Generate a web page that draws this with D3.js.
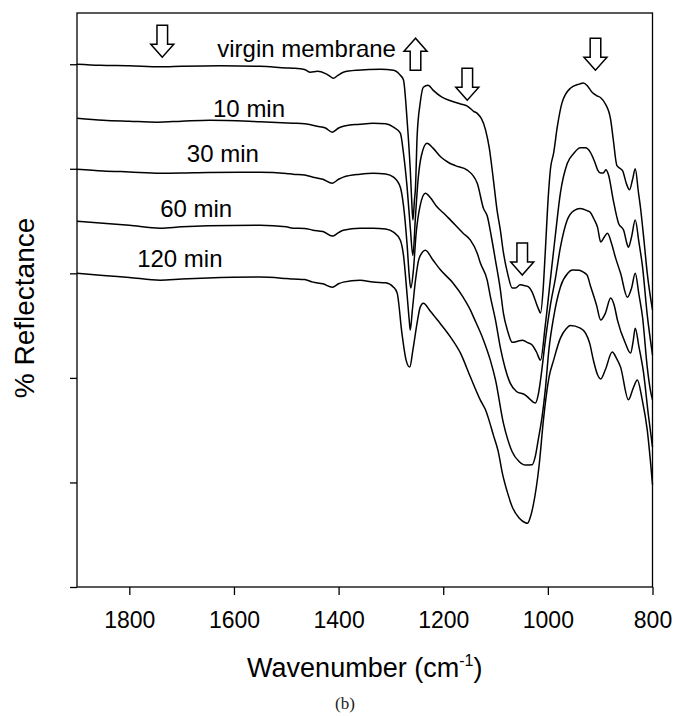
<!DOCTYPE html>
<html>
<head>
<meta charset="utf-8">
<script src="https://cdn.jsdelivr.net/npm/d3@7"></script>
<style>
    body { margin: 0; background: #fff; }
    svg text { font-family: "Liberation Sans", Arial, sans-serif; fill: #000; }
</style>
</head>
<body>
<div id="chart"></div>
<script>

// spectra: [wavenumber, reflectance (offset units)]
const virgin = [
    [1900,5.00],[1856,4.99],[1800,4.985],[1741,4.975],[1700,4.98],[1626,4.985],[1550,4.98],[1500,4.965],[1487,4.962],
    [1465,4.95],[1454,4.924],[1440,4.933],[1425,4.91],[1418,4.89],[1410,4.866],[1402,4.89],[1391,4.924],[1364,4.943],
    [1320,4.952],[1295,4.943],[1282,4.895],[1276,4.85],[1269,4.46],[1263,3.99],[1260,3.67],[1258,3.51],[1255,3.70],
    [1253,3.82],[1250,4.30],[1244,4.63],[1238,4.78],[1229,4.80],[1219,4.75],[1204,4.69],[1186,4.65],[1167,4.62],
    [1154,4.60],[1142,4.55],[1135,4.53],[1119,4.37],[1112,4.20],[1104,3.89],[1097,3.60],[1091,3.42],[1085,3.20],
    [1077,3.00],[1068,2.86],[1062,2.86],[1053,2.89],[1043,2.88],[1037,2.87],[1030,2.82],[1024,2.74],[1018,2.66],
    [1014,2.62],[1009,2.85],[1005,3.20],[999,3.75],[995,4.00],[989,4.15],[982,4.40],[973,4.63],[957,4.77],[940,4.81],
    [932,4.82],[924,4.79],[915,4.73],[907,4.70],[899,4.68],[890,4.62],[880,4.47],[875,4.28],[868,4.03],[861,4.00],
    [857,3.98],[850,3.86],[844,3.80],[838,3.90],[833,4.00],[827,3.78],[823,3.63],[816,3.30],[810,3.00],[800,2.65]
];

const min10 = [
    [1900,4.484],[1850,4.465],[1800,4.455],[1747,4.446],[1700,4.455],[1646,4.465],[1550,4.45],[1487,4.436],[1465,4.43],
    [1441,4.407],[1425,4.39],[1412,4.35],[1400,4.39],[1391,4.407],[1359,4.426],[1334,4.436],[1310,4.43],[1295,4.398],
    [1282,4.34],[1276,4.15],[1269,3.82],[1263,3.44],[1258,3.17],[1253,3.55],[1248,3.90],[1242,4.12],[1231,4.245],
    [1220,4.20],[1204,4.11],[1190,4.06],[1177,4.03],[1154,3.987],[1135,3.862],[1123,3.62],[1116,3.55],[1108,3.35],
    [1100,3.12],[1091,2.85],[1085,2.62],[1077,2.45],[1068,2.34],[1058,2.35],[1049,2.361],[1040,2.34],[1030,2.314],
    [1022,2.25],[1014,2.17],[1005,2.50],[995,2.95],[986,3.35],[976,3.77],[963,4.05],[950,4.15],[938,4.20],[928,4.20],
    [919,4.16],[910,4.06],[905,3.99],[899,3.96],[894,3.96],[889,3.99],[884,3.94],[875,3.70],[865,3.48],[855,3.41],
    [848,3.27],[846,3.25],[840,3.35],[833,3.51],[826,3.30],[819,3.06],[810,2.60],[800,2.22]
];

const min30 = [
    [1900,3.996],[1850,3.98],[1800,3.97],[1741,3.958],[1700,3.96],[1650,3.965],[1550,3.967],[1500,3.955],[1487,3.948],
    [1465,3.94],[1449,3.92],[1430,3.90],[1412,3.862],[1400,3.90],[1391,3.92],[1359,3.948],[1334,3.958],[1310,3.95],
    [1295,3.92],[1282,3.824],[1276,3.65],[1269,3.27],[1265,2.98],[1262,2.859],[1257,3.03],[1252,3.37],[1244,3.65],
    [1234,3.767],[1224,3.72],[1212,3.636],[1198,3.57],[1186,3.509],[1162,3.384],[1148,3.317],[1135,3.193],[1129,3.098],
    [1116,2.935],[1110,2.78],[1100,2.55],[1091,2.294],[1082,2.10],[1072,1.95],[1060,1.87],[1043,1.836],[1035,1.80],
    [1024,1.759],[1018,1.85],[1014,1.98],[1005,2.35],[995,2.70],[986,2.94],[976,3.25],[963,3.51],[950,3.60],[938,3.62],
    [925,3.60],[919,3.585],[912,3.52],[905,3.44],[899,3.30],[893,3.34],[886,3.384],[878,3.28],[871,3.155],[861,3.00],
    [848,2.772],[840,2.86],[833,3.00],[826,2.80],[819,2.58],[810,2.10],[804,1.88],[800,1.79]
];

const min60 = [
    [1900,3.499],[1850,3.48],[1800,3.46],[1741,3.432],[1700,3.445],[1650,3.455],[1550,3.461],[1500,3.445],[1487,3.432],
    [1465,3.43],[1449,3.413],[1430,3.40],[1412,3.356],[1400,3.39],[1391,3.413],[1359,3.432],[1334,3.432],[1310,3.425],
    [1295,3.394],[1282,3.317],[1276,3.174],[1269,2.79],[1265,2.553],[1263,2.457],[1259,2.648],[1253,2.935],[1246,3.145],
    [1234,3.222],[1220,3.13],[1205,3.031],[1181,2.906],[1162,2.772],[1148,2.648],[1142,2.581],[1123,2.361],[1110,2.17],
    [1100,1.979],[1085,1.568],[1076,1.40],[1068,1.291],[1055,1.20],[1043,1.166],[1030,1.17],[1024,1.25],[1018,1.42],
    [1011,1.63],[1005,1.88],[998,2.27],[989,2.58],[976,2.87],[962,3.00],[953,3.031],[940,3.03],[932,3.011],[925,2.983],
    [919,2.887],[907,2.696],[899,2.553],[890,2.62],[880,2.763],[873,2.69],[867,2.553],[852,2.333],[842,2.237],[837,2.35],
    [833,2.476],[826,2.30],[817,2.046],[808,1.65],[800,1.338]
];

const min120 = [
    [1900,3.002],[1850,2.98],[1800,2.96],[1741,2.935],[1700,2.945],[1650,2.955],[1550,2.964],[1500,2.95],[1487,2.945],
    [1465,2.94],[1449,2.916],[1430,2.90],[1412,2.868],[1400,2.90],[1391,2.916],[1359,2.935],[1334,2.916],[1310,2.91],
    [1295,2.868],[1288,2.811],[1279,2.428],[1271,2.17],[1264,2.103],[1258,2.266],[1250,2.524],[1244,2.677],[1238,2.715],
    [1225,2.64],[1211,2.553],[1186,2.39],[1167,2.237],[1148,2.008],[1129,1.788],[1119,1.692],[1114,1.62],[1104,1.45],
    [1095,1.30],[1087,1.09],[1077,0.90],[1068,0.765],[1055,0.66],[1043,0.615],[1039,0.61],[1034,0.66],[1028,0.78],
    [1017,1.15],[1008,1.62],[998,2.00],[989,2.17],[976,2.38],[965,2.47],[957,2.50],[938,2.476],[928,2.428],[920,2.33],
    [913,2.17],[905,2.03],[899,1.99],[890,2.08],[877,2.247],[869,2.19],[861,2.103],[846,1.79],[837,1.90],[829,1.979],
    [820,1.80],[810,1.50],[800,0.98]
];

const spectra = [virgin, min10, min30, min60, min120];

// curve labels
const labelText = ["virgin membrane", "10 min", "30 min", "60 min", "120 min"];
const labelWn = [1632, 1640, 1690, 1741, 1785];
const labelVal = [5.067, 4.493, 4.063, 3.537, 3.059];

// hollow arrows: centre wavenumber, tip value, direction
const arrowWn = [1737, 1253, 1154, 909, 1049];
const arrowTip = [5.067, 5.249, 4.656, 4.943, 2.983];
const arrowDir = ["down", "up", "down", "down", "down"];

// axis ticks
const xTicks = [1800, 1600, 1400, 1200, 1000, 800];
const yTicks = [0, 1, 2, 3, 4, 5];

// layout
const W = 676, H = 716;
const margin = {top: 13, right: 23.5, bottom: 129, left: 77};
const width = W - margin.left - margin.right;
const height = H - margin.top - margin.bottom;

const svg = d3.select("#chart").append("svg")
    .attr("width", W)
    .attr("height", H);

const g = svg.append("g")
    .attr("transform", `translate(${margin.left},${margin.top})`);

const x = d3.scaleLinear().domain([1900, 800]).range([0, width]);
const y = d3.scaleLinear().domain([0, 5.49]).range([height, 0]);

// axes
const xAxis = g.append("g")
    .attr("transform", `translate(0,${height})`)
    .call(d3.axisBottom(x).tickValues(xTicks).tickSize(8).tickPadding(17).tickFormat(d3.format("d")));
xAxis.select(".domain").remove();
xAxis.selectAll("line").attr("stroke", "#000").attr("stroke-width", 1.3);
xAxis.selectAll("text").attr("font-size", 23).attr("font-family", "Liberation Sans, Arial, sans-serif");

const yAxis = g.append("g")
    .call(d3.axisLeft(y).tickValues(yTicks).tickSize(7).tickFormat(""));
yAxis.select(".domain").remove();
yAxis.selectAll("line").attr("stroke", "#000").attr("stroke-width", 1.3);

// frame
g.append("rect")
    .attr("width", width)
    .attr("height", height)
    .attr("fill", "none")
    .attr("stroke", "#000")
    .attr("stroke-width", 1.3);

// spectra
const line = d3.line()
    .x(d => x(d[0]))
    .y(d => y(d[1]))
    .curve(d3.curveMonotoneX);

g.selectAll(".spectrum")
    .data(spectra)
    .enter().append("path")
    .attr("class", "spectrum")
    .attr("d", line)
    .attr("fill", "none")
    .attr("stroke", "#000")
    .attr("stroke-width", 1.5);

// labels
g.selectAll(".lbl")
    .data(labelText)
    .enter().append("text")
    .attr("class", "lbl")
    .attr("x", (d, i) => x(labelWn[i]))
    .attr("y", (d, i) => y(labelVal[i]))
    .attr("font-size", 24)
    .text(d => d);

// block arrows
function arrowPath(cx, tip, dir) {
    let len = 32, head = 13, sw = 5.3, hw = 11.5;
    let s = dir === "down" ? -1 : 1;   // tail sits above the tip for down arrows
    let base = tip + s * head;
    let tail = tip + s * len;
    return `M${cx},${tip} L${cx - hw},${base} L${cx - sw},${base} L${cx - sw},${tail} ` +
        `L${cx + sw},${tail} L${cx + sw},${base} L${cx + hw},${base} Z`;
}

g.selectAll(".arrow")
    .data(arrowWn)
    .enter().append("path")
    .attr("class", "arrow")
    .attr("d", (d, i) => arrowPath(x(d), y(arrowTip[i]), arrowDir[i]))
    .attr("fill", "#fff")
    .attr("stroke", "#000")
    .attr("stroke-width", 1.5);

// axis titles
const xTitle = svg.append("text")
    .attr("x", margin.left + width / 2)
    .attr("y", 677)
    .attr("text-anchor", "middle")
    .attr("font-size", 27);
xTitle.append("tspan").text("Wavenumber (cm");
xTitle.append("tspan").attr("font-size", 16).attr("dy", -11).text("-1");
xTitle.append("tspan").attr("dy", 11).text(")");

svg.append("text")
    .attr("transform", `translate(34,${margin.top + height / 2 + 8}) rotate(-90)`)
    .attr("text-anchor", "middle")
    .attr("font-size", 28)
    .text("% Reflectance");

svg.append("text")
    .attr("x", 345)
    .attr("y", 709)
    .attr("text-anchor", "middle")
    .attr("font-size", 17)
    .style("font-family", "'Liberation Serif', 'DejaVu Serif', serif")
    .style("fill", "#222")
    .text("(b)");

</script>
</body>
</html>
